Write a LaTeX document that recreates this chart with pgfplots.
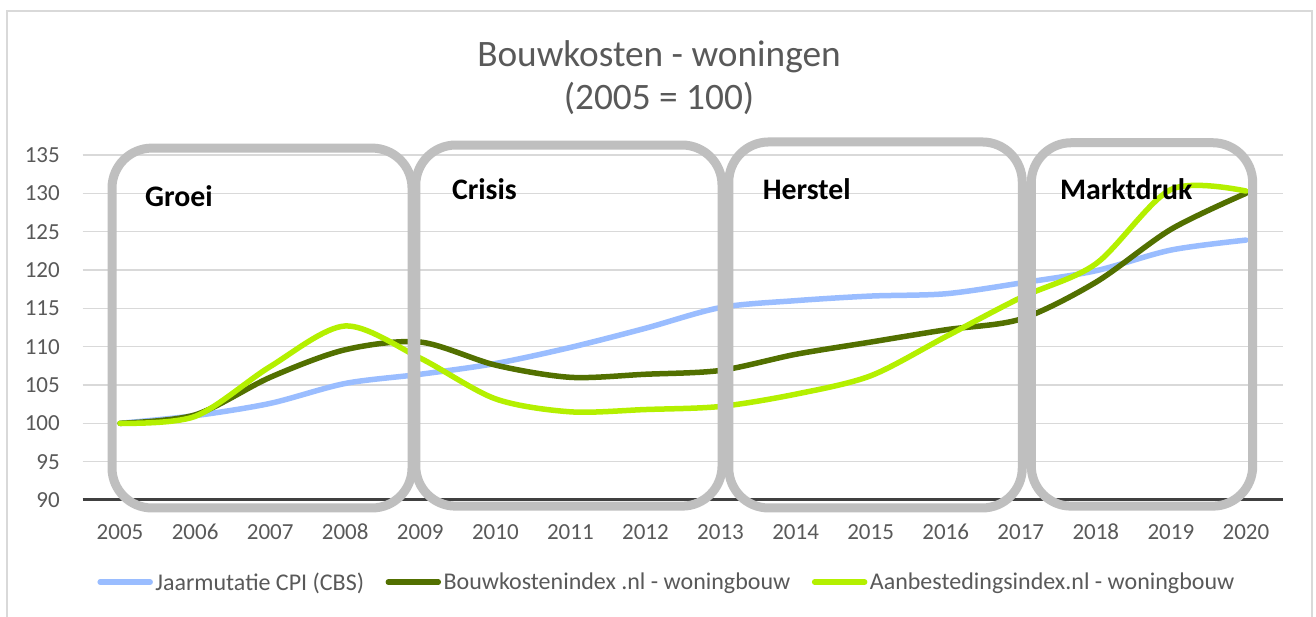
\documentclass[border=0pt]{standalone}
\usepackage{fontspec}
\setmainfont{Carlito}
\usepackage{pgfplots}
\pgfplotsset{compat=1.18}
\definecolor{cpi}{HTML}{9ABDFF}
\definecolor{bki}{HTML}{527000}
\definecolor{abi}{HTML}{B4F000}
\definecolor{boxg}{HTML}{BFBFBF}
\definecolor{gridg}{HTML}{D9D9D9}
\definecolor{txtg}{HTML}{595959}
\definecolor{axg}{HTML}{404040}
\begin{document}
\begin{tikzpicture}[x=1pt,y=1pt]
\useasboundingbox (0,0) rectangle (1316,617);
\fill[white] (0,0) rectangle (1316,617);
\draw[gridg, line width=1.5pt] (7,-5) -- (7,606) -- (1312,606) -- (1312,-5);
\node[txtg, font=\fontsize{37.3}{44}\selectfont, anchor=base] at (659,550.3) {Bouwkosten - woningen};
\node[txtg, font=\fontsize{37.3}{44}\selectfont, anchor=base] at (659,507) {(2005 = 100)};
\begin{axis}[
  at={(82.5pt,117pt)}, anchor=south west,
  scale only axis, width=1201pt, height=345pt,
  xmin=2004.5, xmax=2020.5, ymin=90, ymax=135,
  ytick={90,95,...,135}, xtick={2005,2006,...,2020},
  axis x line*=bottom, axis y line*=left,
  x axis line style={axg, line width=3pt, -},
  y axis line style={draw=none},
  tick style={draw=none},
  ymajorgrids, grid style={gridg, line width=1.5pt},
  /pgf/number format/assume math mode=true,
  /pgf/number format/1000 sep={},
  ticklabel style={txtg, font=\fontsize{23}{26}\selectfont, inner sep=0pt},
  xticklabel style={text height=14.3pt, text depth=0pt},
  yticklabel shift=22.5pt,
  xticklabel shift=25pt,
  clip=false,
  legend columns=3,
  legend style={at={(0.486,-0.238)}, anchor=center, draw=none, fill=none,
    font=\fontsize{24}{27}\selectfont, text=txtg,
    nodes={inner sep=0.5pt},
    /tikz/every odd column/.append style={column sep=2pt},
    /tikz/every even column/.append style={column sep=21pt}},
  legend image code/.code={\draw[#1, line width=5.5pt, line cap=round] (0pt,0pt) -- (50pt,0pt);},
]
\addplot[cpi, line width=5.5pt, line cap=round, smooth, mark=none] coordinates {
(2005,100) (2006,101.0) (2007,102.6) (2008,105.2) (2009,106.4) (2010,107.8)
(2011,109.9) (2012,112.4) (2013,115.1) (2014,116.0) (2015,116.6) (2016,116.9)
(2017,118.3) (2018,119.9) (2019,122.6) (2020,123.9)};
\addlegendentry{Jaarmutatie CPI (CBS)}
\addplot[bki, line width=5.5pt, line cap=round, smooth, mark=none] coordinates {
(2005,100) (2006,101.1) (2007,106.0) (2008,109.6) (2009,110.6) (2010,107.6)
(2011,106.0) (2012,106.4) (2013,106.9) (2014,109.0) (2015,110.6) (2016,112.2)
(2017,113.6) (2018,118.4) (2019,125.3) (2020,130.0)};
\addlegendentry{Bouwkostenindex .nl - woningbouw}
\addplot[abi, line width=5.5pt, line cap=round, smooth, mark=none] coordinates {
(2005,100) (2006,100.9) (2007,107.4) (2008,112.7) (2009,108.5) (2010,103.2)
(2011,101.5) (2012,101.8) (2013,102.2) (2014,103.8) (2015,106.2) (2016,111.3)
(2017,116.4) (2018,120.8) (2019,130.5) (2020,130.3)};
\addlegendentry{Aanbestedingsindex.nl - woningbouw}
\draw[boxg, line width=9pt, rounded corners=40pt] (axis cs:2004.893,135.9) rectangle (axis cs:2008.89,88.96);
\draw[boxg, line width=9pt, rounded corners=40pt] (axis cs:2008.94,136.3) rectangle (axis cs:2013.02,89.2);
\draw[boxg, line width=9pt, rounded corners=40pt] (axis cs:2013.11,136.7) rectangle (axis cs:2017.02,88.96);
\draw[boxg, line width=9pt, rounded corners=40pt] (axis cs:2017.14,136.6) rectangle (axis cs:2020.09,89.2);
\node[font=\bfseries\fontsize{29.8}{34}\selectfont, anchor=base west, inner sep=0pt] at (axis cs:2005.333,128.3) {Groei};
\node[font=\bfseries\fontsize{29.8}{34}\selectfont, anchor=base west, inner sep=0pt] at (axis cs:2009.42,129.2) {Crisis};
\node[font=\bfseries\fontsize{29.8}{34}\selectfont, anchor=base west, inner sep=0pt] at (axis cs:2013.56,129.2) {Herstel};
\node[font=\bfseries\fontsize{29.8}{34}\selectfont, anchor=base west, inner sep=0pt] at (axis cs:2017.52,129.2) {Marktdruk};
\end{axis}
\end{tikzpicture}
\end{document}
